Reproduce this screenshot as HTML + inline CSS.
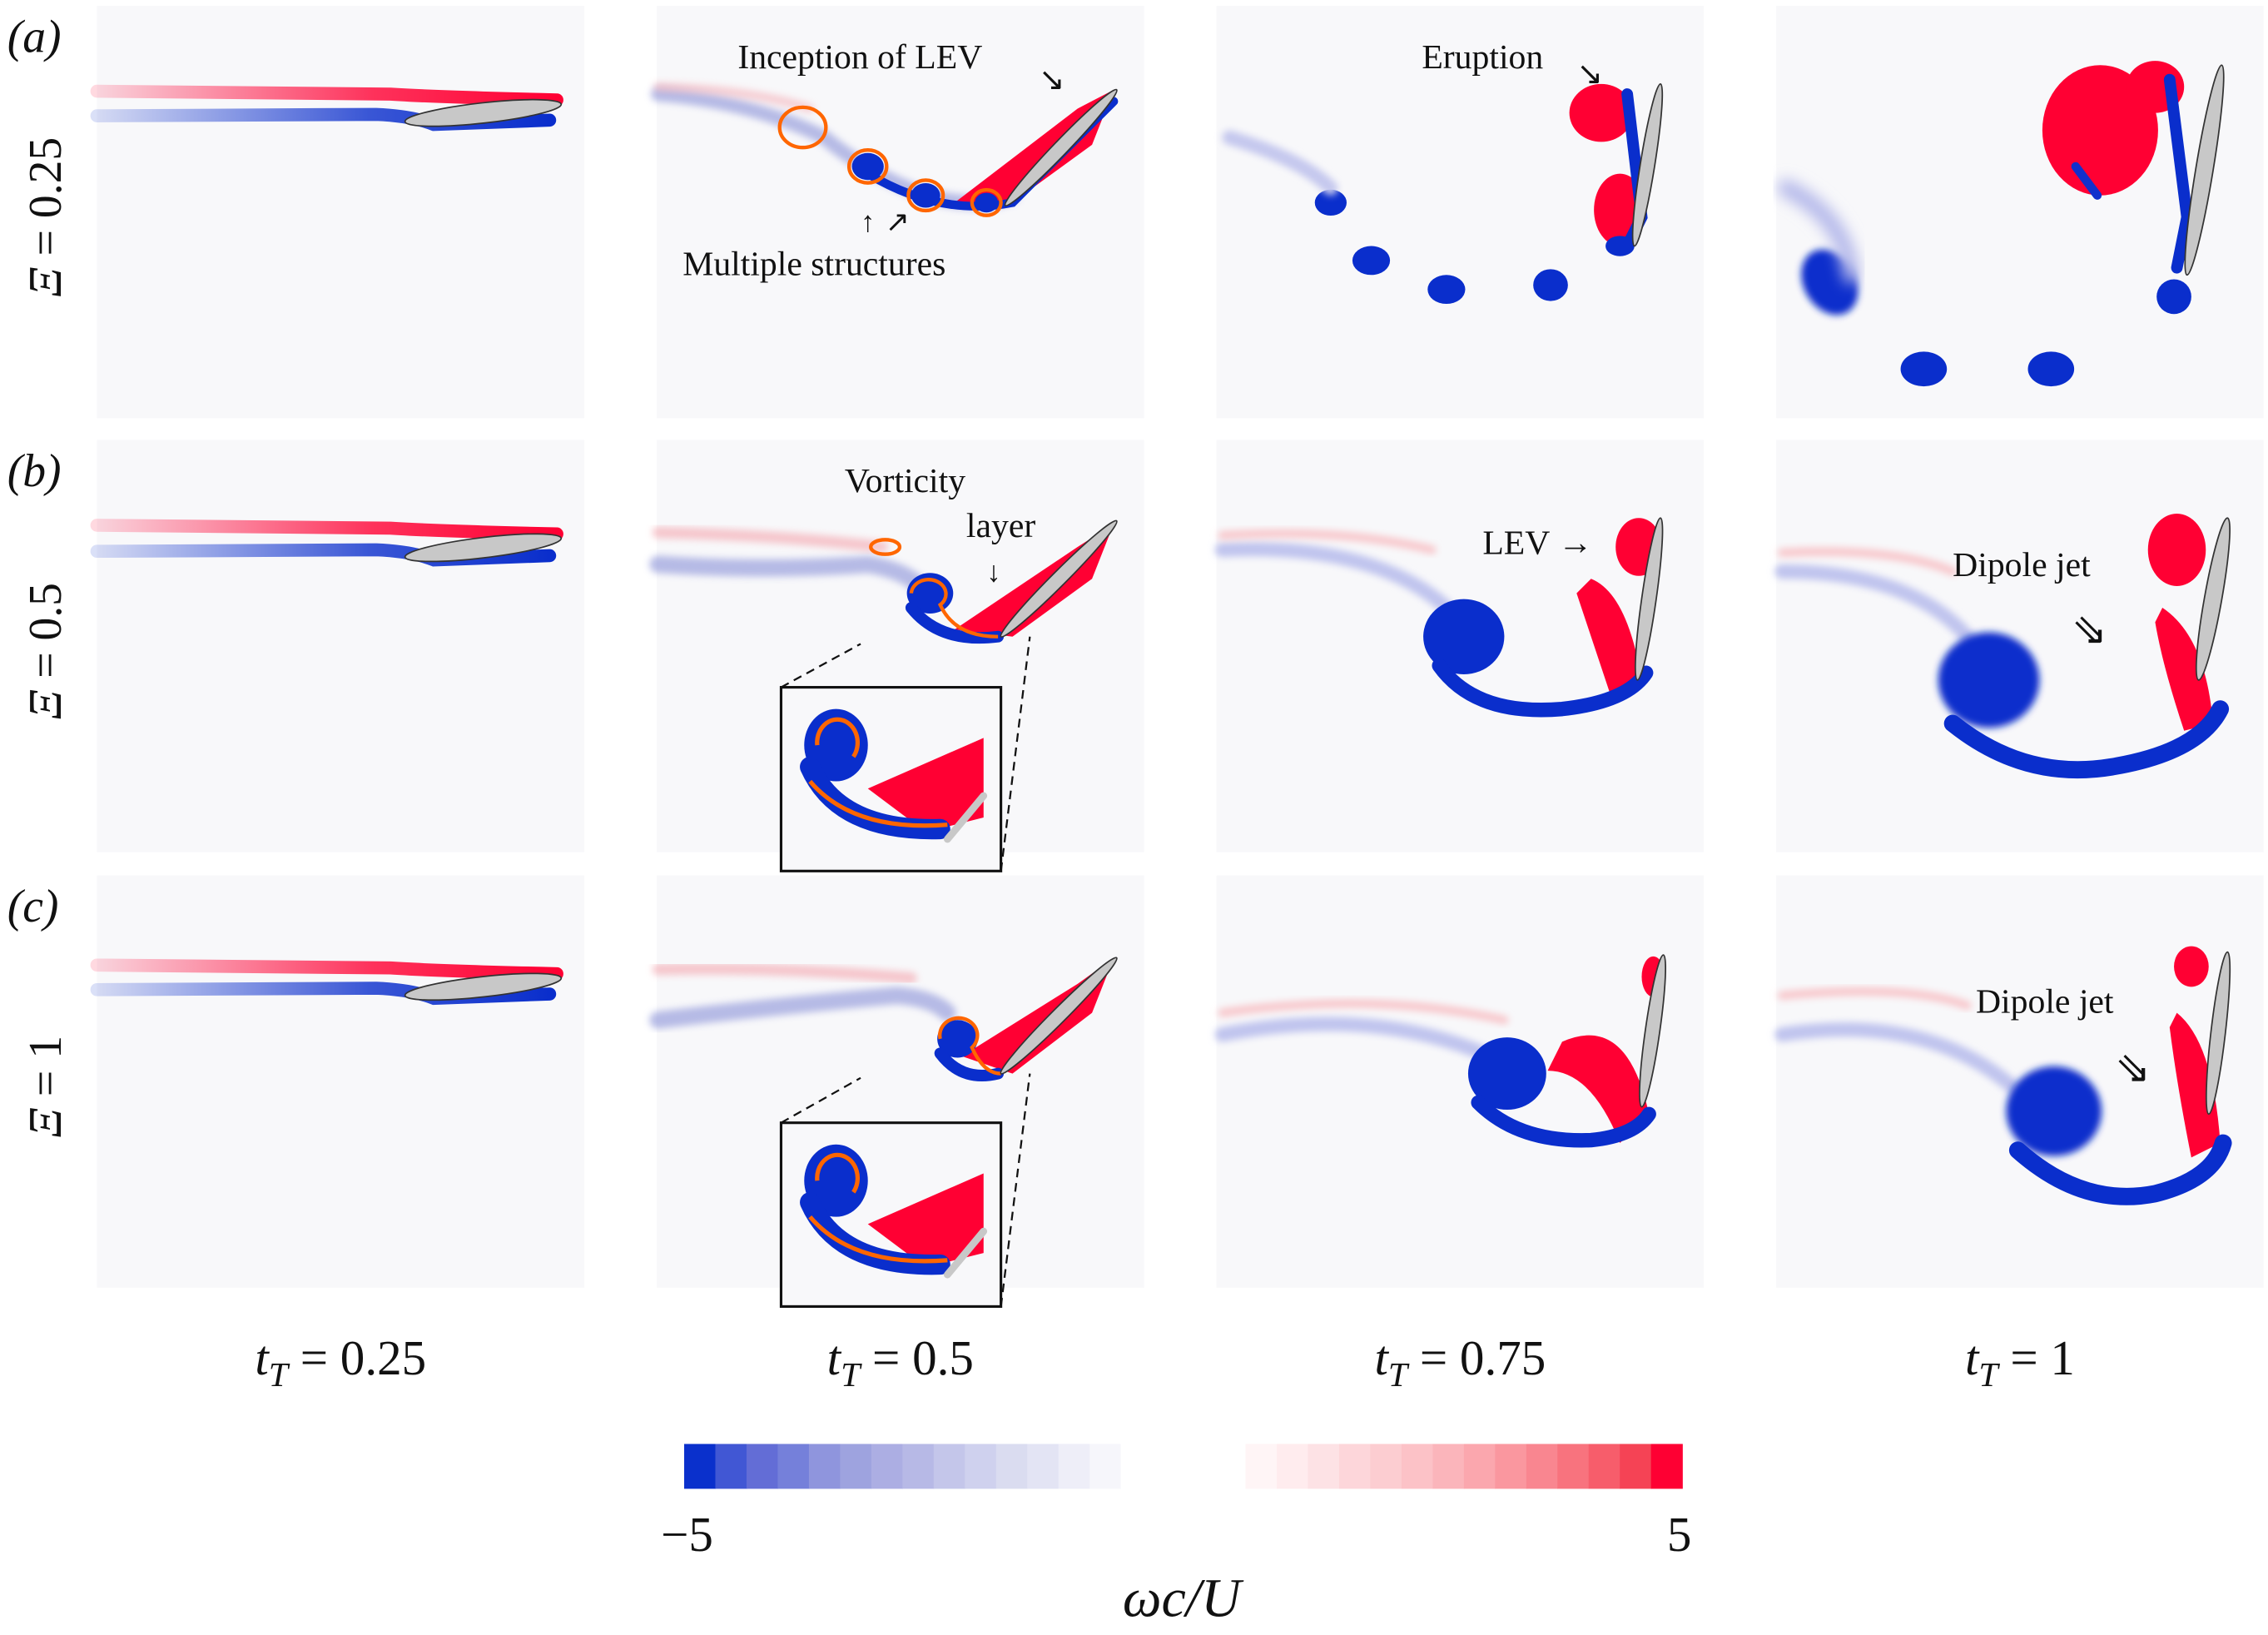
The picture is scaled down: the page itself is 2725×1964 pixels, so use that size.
<!DOCTYPE html>
<html><head><meta charset="utf-8"><style>
html,body{margin:0;padding:0;background:#fff}
svg{display:block}
text{font-family:"Liberation Serif",serif;fill:#111}
</style></head><body>
<svg width="2725" height="1964" viewBox="0 0 1568 1130" xmlns="http://www.w3.org/2000/svg">
<defs>
<filter id="b1" x="-20%" y="-50%" width="140%" height="200%"><feGaussianBlur stdDeviation="2.5"/></filter>
<filter id="b2" x="-20%" y="-50%" width="140%" height="200%"><feGaussianBlur stdDeviation="5"/></filter>
<linearGradient id="fadeR" x1="0" x2="1"><stop offset="0" stop-color="#ff0033" stop-opacity="0.15"/><stop offset="0.6" stop-color="#ff0033" stop-opacity="0.8"/><stop offset="1" stop-color="#ff0033"/></linearGradient>
<linearGradient id="fadeB" x1="0" x2="1"><stop offset="0" stop-color="#0a2ecc" stop-opacity="0.15"/><stop offset="0.6" stop-color="#0a2ecc" stop-opacity="0.8"/><stop offset="1" stop-color="#0a2ecc"/></linearGradient>
</defs>
<g id="panels"></g>
<g id="colorbar"></g>
<text x="475" y="1072" font-size="34" text-anchor="middle">−5</text>
<text x="1161" y="1072" font-size="34" text-anchor="middle">5</text>
<text x="817" y="1117" font-size="38" font-style="italic" text-anchor="middle">ωc/U</text>
</svg>
<script>
const NS='http://www.w3.org/2000/svg';
const cbLevels=[-5,-4.375,-3.75,-3.125,-2.5,-1.875,-1.25,-0.625,0,0.625,1.25,1.875,2.5,3.125,3.75,4.375,5];
const cbBlue=['#0a30cc','#4157d4','#636dd6','#7580da','#8f95dd','#9ea3df','#acaee3','#b7b9e6','#c4c6ea','#cfd1ee','#dadcf0','#e3e4f4','#eeeef8','#f6f6fb'];
const cbRed=['#fff5f6','#ffecee','#fde2e5','#fdd6da','#fccdd1','#fcc2c7','#fbb5bb','#fba7ae','#fa979f','#f98690','#f8737e','#f75d6b','#f54355','#fe0033'];
const colTitles=['0.25','0.5','0.75','1'];
const rowTitles=['0.25','0.5','1'];
const rowLetters=['a','b','c'];
const colX=[67,454,841,1228], rowY=[4,304,605], PW=337, PH=285;
const svg=document.querySelector('svg');
const panels=document.getElementById('panels');
function el(tag,attrs,parent){const e=document.createElementNS(NS,tag);for(const k in attrs)e.setAttribute(k,attrs[k]);(parent||panels).appendChild(e);return e;}
// colorbar
const cb=document.getElementById('colorbar');
const cbX0=473,cbX1=1163,segW=(cbX1-cbX0)/32;
const cbColors=[...cbBlue,'#fff','#fff','#fff','#fff',...cbRed];
cbColors.forEach((c,i)=>{const r=el('rect',{x:cbX0+i*segW,y:998,width:segW+0.4,height:31,fill:c},cb);

});
// panel backgrounds
for(let r=0;r<3;r++)for(let c=0;c<4;c++){const p=el('rect',{x:colX[c],y:rowY[r],width:PW,height:PH,fill:'#f8f8fa'});

}
const R='#ff0033',B='#0a2ecc';
function path(d,stroke,w,extra){const a={d:d,fill:'none',stroke:stroke,'stroke-width':w,'stroke-linecap':'round'};Object.assign(a,extra||{});return el('path',a);}
function blob(cx,cy,rx,ry,fill,blur,rot){const a={cx,cy,rx,ry,fill:fill};if(blur)a.filter='url(#'+blur+')';if(rot)a.transform=`rotate(${rot} ${cx} ${cy})`;return el('ellipse',a);}
function foil(x1,y1,x2,y2,th){const cx=(x1+x2)/2,cy=(y1+y2)/2,L=Math.hypot(x2-x1,y2-y1)/2,a=Math.atan2(y2-y1,x2-x1)*180/Math.PI;
const e=el('ellipse',{cx,cy,rx:L,ry:th||6,fill:'#c8c8c8',stroke:'#333','stroke-width':1,transform:`rotate(${a} ${cx} ${cy})`});

}
// column 1 (all rows)
[[63,80],[363,381],[667,684]].forEach(([yr,yb],i)=>{
 path(`M67 ${yr} L270 ${yr+2} Q300 ${yr+4} 385 ${yr+6}`,'url(#fadeR)',9);
 path(`M67 ${yb} L260 ${yb-1} Q285 ${yb} 300 ${yb+6} L380 ${yb+3}`,'url(#fadeB)',9);
 foil(280,yb+4,388,yr+9,7);
});
// row a col2
path('M455 65 Q520 70 570 95 Q600 120 640 135 Q680 145 700 135','#9aa0dd',10,{filter:'url(#b1)',opacity:0.7});
path('M455 60 Q520 62 560 75','#f4b0b8',6,{filter:'url(#b1)',opacity:0.6});
el('path',{d:'M660 140 L745 75 L770 62 L755 100 L700 140 Z',fill:R});
path('M600 120 Q650 150 700 140 L770 70',B,6);
[[600,115,11],[640,135,10],[682,140,8],[555,88,14]].forEach(([x,y,r],i)=>{blob(x,y,r,r*0.85,i==3?'none':B);el('ellipse',{cx:x,cy:y,rx:r+2,ry:r*0.85+2,fill:'none',stroke:'#ff6600','stroke-width':2.5});});
foil(695,142,772,62,5);
// row a col3
[[920,140,11,9],[948,180,13,10],[1000,200,13,10],[1072,197,12,11]].forEach(([x,y,a,b])=>blob(x,y,a,b,B));
path('M850 95 Q900 110 920 130','#c5c8ee',10,{filter:'url(#b1)'});
blob(1107,78,22,20,R);blob(1120,145,18,25,R);
path('M1125 65 L1135 150 L1125 170',B,8);blob(1120,170,10,7,B);
foil(1130,170,1148,58,5);
// row a col4
blob(1265,195,18,24,B,'b1',-30);path('M1235 130 Q1275 150 1280 190','#b4b8ea',12,{filter:'url(#b2)'});
blob(1330,255,16,12,B);blob(1418,255,16,12,B);blob(1503,205,12,12,B);
blob(1452,90,40,45,R);blob(1490,60,20,18,R);path('M1435 115 L1450 135','#1230cc',6);
path('M1500 55 L1512 150 L1505 185',B,8);foil(1512,190,1536,45,6);
// row b col2
path('M455 390 Q530 395 600 390 Q630 395 640 410','#9aa0dd',12,{filter:'url(#b1)',opacity:0.7});
path('M455 368 Q540 370 610 378','#f4b0b8',8,{filter:'url(#b1)',opacity:0.7});
el('path',{d:'M660 435 L745 378 L770 362 L755 400 L700 440 Z',fill:R});
blob(643,410,16,14,B);path('M630 420 Q650 445 690 440',B,8);
el('path',{d:'M630 410 a12 10 0 1 1 20 8 Q660 440 690 440',fill:'none',stroke:'#ff6600','stroke-width':2.5});
el('ellipse',{cx:612,cy:378,rx:10,ry:5,fill:'none',stroke:'#ff6600','stroke-width':2.5});
foil(692,440,772,360,5);
// row c col2
path('M455 705 Q540 695 620 688 Q645 690 655 700','#9aa0dd',12,{filter:'url(#b1)',opacity:0.7});
path('M455 670 Q540 668 630 676','#f4b0b8',8,{filter:'url(#b1)',opacity:0.7});
el('path',{d:'M665 730 L745 680 L770 662 L755 700 L700 742 Z',fill:R});
blob(662,718,14,13,B);path('M650 728 Q665 748 690 742',B,8);
el('path',{d:'M650 718 a13 12 0 1 1 22 6 Q680 742 692 742',fill:'none',stroke:'#ff6600','stroke-width':2.5});
foil(692,742,772,662,5);
// insets
[[475,540,445,712,440],[776,540,745,712,742]].forEach(([y,x,ay,bx,by],k)=>{
 el('rect',{x:540,y:y,width:152,height:127,fill:'#f8f8fa',stroke:'#111','stroke-width':1.8});
 el('path',{d:`M${x} ${y} L${595} ${ay}`,stroke:'#111','stroke-width':1.3,'stroke-dasharray':'6 4'});
 el('path',{d:`M692 ${y+127} L${bx} ${by}`,stroke:'#111','stroke-width':1.3,'stroke-dasharray':'6 4'});
 el('path',{d:`M600 ${y+70} L680 ${y+35} L680 ${y+90} L640 ${y+100} Z`,fill:R});
 blob(578,y+40,22,25,B);path(`M560 ${y+55} Q580 ${y+100} 650 ${y+98}`,B,14);
 el('path',{d:`M565 ${y+40} a14 16 0 1 1 25 8 M560 ${y+65} Q590 ${y+100} 655 ${y+95}`,fill:'none',stroke:'#ff6600','stroke-width':3});
 path(`M655 ${y+105} L680 ${y+75}`,'#c8c8c8',5);
});
// row b col3
path('M845 380 Q950 375 1000 420','#c0c4ee',10,{filter:'url(#b1)'});
path('M845 370 Q930 365 990 380','#f8c8cc',6,{filter:'url(#b1)'});
el('path',{d:'M1100 400 Q1125 410 1135 470 L1115 485 Q1100 440 1090 410 Z',fill:R});
blob(1012,440,28,26,B);path('M995 460 Q1020 495 1080 490 Q1125 485 1138 465',B,10);
blob(1133,378,16,20,R);foil(1132,470,1148,358,5);
// row b col4
path('M1232 395 Q1320 395 1360 440','#c0c4ee',10,{filter:'url(#b1)'});
path('M1232 382 Q1310 378 1350 395','#f8c8cc',6,{filter:'url(#b1)'});
el('path',{d:'M1495 420 Q1525 440 1530 500 L1510 505 Q1495 460 1490 430 Z',fill:R});
blob(1375,470,35,33,B,'b1');path('M1350 500 Q1400 540 1460 530 Q1520 520 1535 490',B,12);
blob(1505,380,20,25,R);foil(1520,470,1540,358,6);
// row c col3
path('M845 715 Q950 695 1030 730','#c0c4ee',10,{filter:'url(#b1)'});
path('M845 700 Q950 685 1040 705','#f8c8cc',6,{filter:'url(#b1)'});
el('path',{d:'M1080 720 Q1125 700 1140 770 L1120 790 Q1100 740 1070 740 Z',fill:R});
blob(1042,742,27,25,B);path('M1022 762 Q1050 790 1100 788 Q1130 785 1140 770',B,10);
blob(1143,675,8,14,R);foil(1135,765,1150,660,5);
// row c col4
path('M1232 715 Q1330 700 1390 750','#c0c4ee',10,{filter:'url(#b1)'});
path('M1232 688 Q1320 680 1360 695','#f8c8cc',6,{filter:'url(#b1)'});
el('path',{d:'M1505 700 Q1530 720 1535 790 L1515 800 Q1505 750 1500 710 Z',fill:R});
blob(1420,768,33,31,B,'b1');path('M1395 795 Q1440 835 1490 825 Q1530 815 1537 790',B,12);
blob(1515,668,12,14,R);foil(1527,770,1540,658,5);
// text helpers
function txt(x,y,s,size,name,extra){const t=el('text',Object.assign({x,y,'font-size':size},extra||{}),svg);t.textContent=s;

return t;}
rowLetters.forEach((l,i)=>txt(5,rowY[i]+32,'('+l+')',32,'row-label-'+l,{'font-style':'italic'}));
rowTitles.forEach((v,i)=>{const t=txt(0,0,'',32,'row-param-'+rowLetters[i],{'text-anchor':'middle',transform:`translate(42 ${rowY[i]+146}) rotate(-90)`});
t.innerHTML='<tspan font-style="italic">Ξ</tspan> = '+v;});
colTitles.forEach((v,i)=>{const t=txt(colX[i]+PW/2,950,'',34,'column-time-'+(i+1),{'text-anchor':'middle'});
t.innerHTML='<tspan font-style="italic">t</tspan><tspan font-style="italic" font-size="24" dy="8">T</tspan><tspan dy="-8"> = '+v+'</tspan>';});
const ann=[[510,47,'Inception of LEV','annotation-inception'],[472,190,'Multiple structures','annotation-multiple'],[983,47,'Eruption','annotation-eruption'],
[584,340,'Vorticity','annotation-vorticity'],[668,371,'layer','annotation-layer'],[1025,383,'LEV →','annotation-lev'],[1350,398,'Dipole jet','annotation-dipole-b'],[1366,700,'Dipole jet','annotation-dipole-c']];
ann.forEach(a=>txt(a[0],a[1],a[2],24,a[3]));
txt(1432,445,'⇘',30,'dipole-arrow-b');txt(1462,748,'⇘',30,'dipole-arrow-c');
txt(595,160,'↑',20,'arrow-multiple-1');txt(612,160,'↗',20,'arrow-multiple-2');
txt(718,62,'↘',22,'arrow-inception');txt(1090,58,'↘',22,'arrow-eruption');txt(682,402,'↓',20,'arrow-layer');
</script>
</body></html>
